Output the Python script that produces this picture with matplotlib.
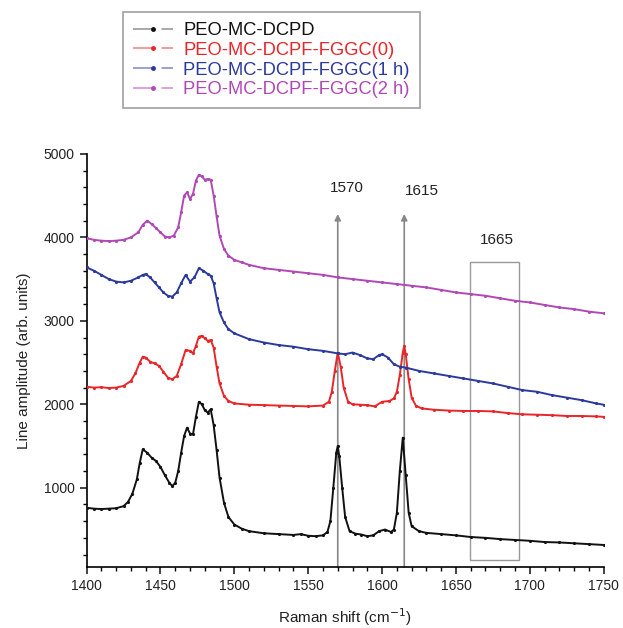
import matplotlib.pyplot as plt
from matplotlib.lines import Line2D
from matplotlib.patches import Rectangle

plt.rcParams['font.family'] = ['Liberation Sans', 'DejaVu Sans']

# Raman spectra (shift in cm-1, amplitude in arb. units)
shift_dcpd = [1400, 1405, 1410, 1415, 1420, 1425, 1428, 1431, 1434, 1436, 1438, 1441, 1444, 1447,
              1450, 1453, 1456, 1458, 1460, 1462, 1464, 1466, 1468, 1470, 1472, 1474, 1476, 1478,
              1480, 1482, 1484, 1486, 1488, 1490, 1493, 1496, 1500, 1505, 1510, 1520, 1530, 1540,
              1545, 1550, 1555, 1560, 1563, 1565, 1567, 1569, 1570, 1571, 1573, 1575, 1578, 1582,
              1586, 1590, 1594, 1598, 1602, 1606, 1608, 1610, 1612, 1614, 1616, 1618, 1620, 1625,
              1630, 1640, 1650, 1660, 1670, 1680, 1690, 1700, 1710, 1720, 1730, 1740, 1750]
amp_dcpd = [760, 750, 745, 750, 755, 780, 830, 930, 1100, 1300, 1460, 1420, 1360, 1320,
            1250, 1150, 1060, 1020, 1060, 1200, 1420, 1620, 1720, 1650, 1640, 1850, 2030, 2000,
            1930, 1900, 1940, 1750, 1450, 1120, 820, 650, 560, 510, 480, 455, 445, 435,
            445, 425, 420, 430, 470, 600, 1000, 1420, 1500, 1380, 1000, 650, 480, 450,
            440, 420, 430, 480, 500, 470, 500, 700, 1200, 1600, 1150, 700, 540, 480,
            460, 445, 430, 410, 400, 385, 375, 365, 350, 345, 335, 325, 315]

shift_fggc0 = [1400, 1405, 1410, 1415, 1420, 1425, 1430, 1433, 1436, 1438, 1440, 1443, 1446, 1449,
               1452, 1455, 1458, 1461, 1464, 1467, 1470, 1472, 1474, 1476, 1478, 1480, 1482, 1484,
               1486, 1488, 1490, 1493, 1496, 1500, 1510, 1520, 1530, 1540, 1550, 1560, 1564, 1566,
               1568, 1570, 1572, 1574, 1577, 1580, 1585, 1590, 1595, 1600, 1605, 1608, 1610, 1612,
               1614, 1615, 1616, 1618, 1620, 1623, 1627, 1635, 1645, 1655, 1665, 1675, 1685, 1695,
               1705, 1715, 1725, 1735, 1745, 1750]
amp_fggc0 = [2210, 2200, 2205, 2195, 2200, 2220, 2280, 2370, 2500, 2570, 2560, 2510, 2490, 2460,
             2390, 2320, 2300, 2340, 2480, 2650, 2640, 2610, 2700, 2810, 2820, 2790, 2760, 2770,
             2680, 2450, 2250, 2100, 2040, 2010, 1995, 1990, 1985, 1980, 1975, 1985, 2030, 2150,
             2400, 2620, 2450, 2200, 2030, 2000, 1995, 1990, 1975, 2030, 2040, 2070, 2150, 2350,
             2620, 2700, 2600, 2300, 2080, 1980, 1950, 1935, 1925, 1920, 1920, 1915, 1895, 1880,
             1875, 1870, 1860, 1860, 1855, 1850]

shift_fggc1 = [1400, 1405, 1410, 1415, 1420, 1425, 1430, 1435, 1438, 1440, 1443, 1446, 1449, 1452,
               1455, 1458, 1461, 1464, 1467, 1470, 1473, 1476, 1479, 1482, 1484, 1486, 1488, 1490,
               1493, 1496, 1500, 1510, 1520, 1530, 1540, 1550, 1560, 1570, 1575, 1580, 1585, 1590,
               1594, 1598, 1600, 1604, 1608, 1612, 1616, 1625, 1635, 1645, 1655, 1665, 1675, 1685,
               1695, 1705, 1715, 1725, 1735, 1745, 1750]
amp_fggc1 = [3640, 3600, 3550, 3500, 3470, 3460, 3480, 3520, 3550, 3560, 3520, 3460, 3400, 3340,
             3300, 3290, 3340, 3450, 3550, 3470, 3520, 3630, 3600, 3560, 3540, 3450, 3270, 3100,
             2980, 2900, 2850, 2780, 2740, 2710, 2690, 2660, 2640, 2610, 2600, 2620, 2590, 2550,
             2540, 2590, 2600, 2560, 2480, 2450, 2440, 2400, 2370, 2340, 2310, 2280, 2250, 2210,
             2170, 2150, 2110, 2080, 2050, 2010, 1995]

shift_fggc2 = [1400, 1405, 1410, 1415, 1420, 1425, 1430, 1435, 1438, 1441, 1444, 1447, 1450, 1453,
               1456, 1459, 1462, 1464, 1466, 1468, 1470, 1472, 1474, 1476, 1478, 1480, 1482, 1484,
               1486, 1488, 1490, 1493, 1496, 1500, 1505, 1510, 1520, 1530, 1540, 1550, 1560, 1570,
               1580, 1590, 1600, 1610, 1620, 1630, 1640, 1650, 1660, 1670, 1680, 1690, 1700, 1710,
               1720, 1730, 1740, 1750]
amp_fggc2 = [3990, 3970, 3960, 3955, 3960, 3970, 4000, 4060, 4150, 4200, 4160, 4110, 4060, 4010,
             4000, 4020, 4120, 4300, 4500, 4540, 4460, 4520, 4680, 4750, 4730, 4690, 4700, 4690,
             4500, 4250, 4020, 3860, 3780, 3730, 3700, 3670, 3630, 3610, 3590, 3570, 3550, 3520,
             3500, 3480, 3460, 3440, 3420, 3400, 3370, 3340, 3320, 3300, 3270, 3240, 3220, 3190,
             3160, 3140, 3110, 3090]

labels = ['PEO-MC-DCPD', 'PEO-MC-DCPF-FGGC(0)', 'PEO-MC-DCPF-FGGC(1 h)', 'PEO-MC-DCPF-FGGC(2 h)']
colors = ['#111111', '#e8262a', '#2b3a9c', '#b049b5']
light = ['#9a9a9a', '#f08a8a', '#8a90c8', '#d890d8']

fig = plt.figure(figsize=(6.23, 6.28), dpi=100)
ax = fig.add_axes([0.139, 0.097, 0.83, 0.658])

series = [(shift_dcpd, amp_dcpd), (shift_fggc0, amp_fggc0),
          (shift_fggc1, amp_fggc1), (shift_fggc2, amp_fggc2)]
for (x, y), lab, c in zip(series, labels, colors):
    ax.plot(x, y, color=c, lw=1.4, marker='.', markersize=2.5, label=lab, zorder=3)

# marker lines for the two bands and the box at 1665
for pos, txt, tx, ty in [(1570, '1570', 1576, 4590), (1615, '1615', 1627, 4560)]:
    ax.annotate('', xy=(pos, 4280), xytext=(pos, 50),
                arrowprops=dict(arrowstyle='-|>', color='#888888', lw=1.2,
                                mutation_scale=9, shrinkA=0, shrinkB=0), zorder=2)
    ax.text(tx, ty, txt, ha='center', va='center', fontsize=11, color='#222222')

ax.add_patch(Rectangle((1659.5, 140), 33.5, 3570, fill=False, edgecolor='#999999', lw=1.0, zorder=2))
ax.text(1678, 3970, '1665', ha='center', va='center', fontsize=11, color='#222222')

ax.set_xlim(1400, 1750)
ax.set_ylim(50, 5000)
ax.set_xticks([1400, 1450, 1500, 1550, 1600, 1650, 1700, 1750])
ax.set_yticks([1000, 2000, 3000, 4000, 5000])
ax.set_xticks(range(1400, 1751, 10), minor=True)
ax.set_yticks(range(200, 5001, 200), minor=True)
ax.tick_params(which='major', direction='out', length=5, width=1.2, labelsize=10, colors='#222222')
ax.tick_params(which='minor', direction='out', length=3, width=1.0)
ax.spines['top'].set_visible(False)
ax.spines['right'].set_visible(False)
ax.spines['left'].set_linewidth(1.2)
ax.spines['bottom'].set_linewidth(1.2)

ax.set_xlabel('Raman shift (cm$^{-1}$)', fontsize=11, color='#222222', labelpad=10)
ax.set_ylabel('Line amplitude (arb. units)', fontsize=11, color='#222222', labelpad=9)

# legend entries look like "— · —": light dashes with a dark dot in the gap
proxies = [Line2D([], [], color=lc, lw=1.2, linestyle=(0, (11.5, 5.6)),
                  marker='.', markersize=5, markerfacecolor=c, markeredgecolor=c)
           for c, lc in zip(colors, light)]
leg = fig.legend(proxies, labels, loc='upper left', bbox_to_anchor=(0.197, 0.981),
                 fontsize=13.2, frameon=True, fancybox=False, numpoints=1, borderaxespad=0,
                 handlelength=2.2, labelspacing=0.15, borderpad=0.55, handletextpad=0.55)
leg.get_frame().set_edgecolor('#888888')
leg.get_frame().set_linewidth(1.2)
for t, c in zip(leg.get_texts(), colors):
    t.set_color(c)

fig.savefig('out.png', dpi=100)
